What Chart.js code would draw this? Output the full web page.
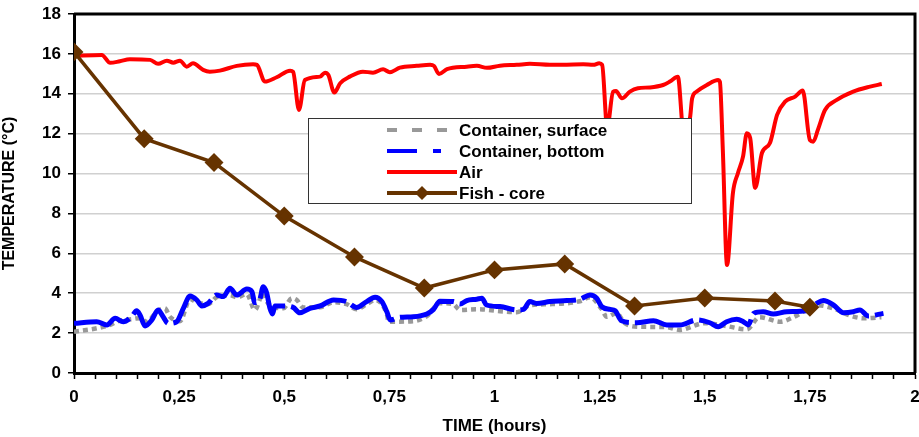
<!DOCTYPE html>
<html>
<head>
<meta charset="utf-8">
<script src="https://cdn.jsdelivr.net/npm/chart.js@4"></script>
<style>
  html, body { margin: 0; padding: 0; background: #fff; overflow: hidden; }
  #wrap { width: 919px; height: 437px; }
</style>
</head>
<body>
<div id="wrap"><canvas id="tempChart"></canvas></div>
<script>
// series data (time in hours, temperature in °C)
const surfaceTime = [0, 0.054, 0.086, 0.105, 0.137, 0.157, 0.173, 0.197, 0.216, 0.228, 0.252, 0.276, 0.292, 0.319, 0.339, 0.371, 0.387, 0.411, 0.43, 0.45, 0.458, 0.474, 0.498, 0.518, 0.53, 0.545, 0.585, 0.617, 0.648, 0.672, 0.696, 0.716, 0.744, 0.748, 0.807, 0.839, 0.87, 0.902, 0.918, 0.958, 1.013, 1.053, 1.084, 1.132, 1.203, 1.227, 1.255, 1.267, 1.29, 1.31, 1.346, 1.41, 1.44, 1.5, 1.55, 1.6, 1.63, 1.68, 1.71, 1.77, 1.81, 1.85, 1.88, 1.92];
const surfaceTemp = [2.07, 2.24, 2.41, 2.6, 2.7, 2.75, 2.57, 3.07, 3.24, 2.82, 2.6, 3.7, 3.55, 3.45, 3.8, 3.9, 3.8, 3.95, 3.16, 4.0, 3.6, 3.29, 3.25, 3.75, 3.66, 3.29, 3.3, 3.55, 3.45, 3.2, 3.45, 3.65, 2.95, 2.57, 2.6, 2.85, 3.5, 3.45, 3.16, 3.2, 3.1, 3.05, 3.4, 3.45, 3.6, 3.8, 3.2, 2.82, 3.0, 2.5, 2.32, 2.3, 2.16, 2.5, 2.36, 2.19, 2.8, 2.57, 2.79, 3.4, 3.2, 2.85, 2.74, 2.8];

const bottomTime = [0, 0.054, 0.078, 0.098, 0.117, 0.137, 0.149, 0.157, 0.169, 0.185, 0.2, 0.212, 0.224, 0.244, 0.26, 0.276, 0.292, 0.304, 0.319, 0.339, 0.355, 0.371, 0.387, 0.411, 0.423, 0.43, 0.442, 0.45, 0.458, 0.466, 0.472, 0.478, 0.498, 0.521, 0.537, 0.561, 0.585, 0.617, 0.648, 0.672, 0.696, 0.716, 0.732, 0.744, 0.752, 0.775, 0.807, 0.839, 0.855, 0.87, 0.902, 0.918, 0.934, 0.958, 0.97, 0.981, 1.013, 1.053, 1.069, 1.084, 1.1, 1.132, 1.172, 1.203, 1.227, 1.243, 1.255, 1.275, 1.287, 1.302, 1.338, 1.378, 1.41, 1.441, 1.481, 1.512, 1.532, 1.552, 1.576, 1.592, 1.604, 1.616, 1.639, 1.663, 1.695, 1.742, 1.766, 1.782, 1.806, 1.83, 1.853, 1.869, 1.889, 1.925];
const bottomTemp = [2.49, 2.57, 2.41, 2.74, 2.57, 2.82, 3.12, 2.91, 2.36, 2.66, 3.16, 2.82, 2.49, 2.57, 3.24, 3.86, 3.66, 3.36, 3.49, 3.91, 3.83, 4.25, 3.91, 4.21, 4.08, 3.53, 3.7, 4.33, 4.03, 3.24, 2.96, 3.36, 3.36, 3.29, 3.02, 3.24, 3.36, 3.66, 3.58, 3.29, 3.58, 3.8, 3.58, 3.07, 2.66, 2.79, 2.82, 2.96, 3.19, 3.6, 3.58, 3.46, 3.63, 3.7, 3.75, 3.41, 3.33, 3.16, 3.19, 3.58, 3.49, 3.58, 3.63, 3.7, 3.91, 3.75, 3.33, 3.19, 3.12, 2.62, 2.52, 2.62, 2.41, 2.41, 2.66, 2.52, 2.32, 2.57, 2.69, 2.57, 2.41, 2.99, 3.07, 2.96, 3.07, 3.12, 3.49, 3.63, 3.41, 3.02, 3.07, 3.16, 2.86, 2.99];

const airTime = [0, 0.066, 0.086, 0.109, 0.133, 0.181, 0.2, 0.221, 0.236, 0.252, 0.268, 0.283, 0.307, 0.323, 0.347, 0.387, 0.426, 0.435, 0.454, 0.482, 0.514, 0.521, 0.535, 0.549, 0.585, 0.597, 0.605, 0.619, 0.633, 0.656, 0.687, 0.711, 0.735, 0.751, 0.775, 0.815, 0.847, 0.856, 0.868, 0.887, 0.934, 0.958, 0.982, 1.013, 1.053, 1.084, 1.132, 1.172, 1.211, 1.235, 1.249, 1.256, 1.268, 1.282, 1.289, 1.303, 1.322, 1.341, 1.37, 1.401, 1.417, 1.436, 1.45, 1.465, 1.47, 1.481, 1.505, 1.532, 1.536, 1.543, 1.553, 1.567, 1.579, 1.591, 1.6, 1.608, 1.62, 1.636, 1.655, 1.672, 1.691, 1.715, 1.733, 1.75, 1.758, 1.769, 1.786, 1.814, 1.853, 1.893, 1.921];
const airTemp = [15.9, 15.95, 15.55, 15.63, 15.73, 15.7, 15.5, 15.66, 15.56, 15.66, 15.36, 15.53, 15.2, 15.11, 15.16, 15.4, 15.48, 15.45, 14.61, 14.83, 15.16, 15.1, 13.19, 14.69, 14.86, 15.06, 14.94, 14.06, 14.53, 14.86, 15.11, 15.06, 15.23, 15.08, 15.31, 15.4, 15.46, 15.4, 14.99, 15.23, 15.36, 15.4, 15.3, 15.41, 15.45, 15.5, 15.45, 15.46, 15.48, 15.45, 15.53, 15.45, 12.3, 14.1, 14.14, 13.77, 14.11, 14.28, 14.32, 14.44, 14.61, 14.86, 12.0, 12.8, 13.77, 14.11, 14.44, 14.69, 14.61, 11.18, 5.42, 9.03, 10.03, 10.85, 12.02, 11.78, 9.28, 11.03, 11.53, 12.94, 13.61, 13.86, 14.16, 11.68, 11.6, 12.19, 13.19, 13.69, 14.11, 14.36, 14.49];

const fishTime = [0, 0.167, 0.333, 0.5, 0.667, 0.833, 1, 1.167, 1.333, 1.5, 1.667, 1.75];
const fishTemp = [16.1, 11.75, 10.55, 7.87, 5.82, 4.26, 5.17, 5.47, 3.36, 3.76, 3.61, 3.3];

const seriesNames = ['Container, surface', 'Container, bottom', 'Air', 'Fish - core'];

const FONT = 'Liberation Sans, Arial, sans-serif';

// turn two arrays into {x, y} points
function toPoints(xs, ys) {
  return xs.map((x, i) => ({ x: x, y: ys[i] }));
}

// draws the black frame and the boxed legend on top of the lines
const frameAndLegend = {
  id: 'frameAndLegend',
  afterDraw(chart) {
    const ctx = chart.ctx;
    const a = chart.chartArea;
    ctx.save();

    // top and right border of the plot
    ctx.strokeStyle = '#000';
    ctx.lineWidth = 3;
    ctx.beginPath();
    ctx.moveTo(a.left, a.top);
    ctx.lineTo(a.right, a.top);
    ctx.lineTo(a.right, a.bottom);
    ctx.stroke();

    // legend box
    const bx = 308, by = 118, bw = 383, bh = 85;
    ctx.fillStyle = '#fff';
    ctx.fillRect(bx, by, bw, bh);
    ctx.strokeStyle = '#333';
    ctx.lineWidth = 1;
    ctx.strokeRect(bx + 0.5, by + 0.5, bw, bh);

    const x1 = 387, x2 = 457;
    const rows = [130, 151, 172, 193];
    const styles = [
      { color: '#999999', dash: [10, 15] },
      { color: '#0000ff', dash: [30, 16, 8, 16] },
      { color: '#ff0000', dash: [] },
      { color: '#663300', dash: [] }
    ];
    rows.forEach((y, i) => {
      ctx.strokeStyle = styles[i].color;
      ctx.lineWidth = 4;
      ctx.setLineDash(styles[i].dash);
      ctx.beginPath();
      ctx.moveTo(x1, y);
      ctx.lineTo(x2, y);
      ctx.stroke();
      ctx.setLineDash([]);

      ctx.fillStyle = '#000';
      ctx.font = 'bold 17px ' + FONT;
      ctx.textBaseline = 'middle';
      ctx.textAlign = 'left';
      ctx.fillText(seriesNames[i], 459, y + 1);
    });

    // diamond marker in the fish entry
    const cx = 422, cy = rows[3];
    ctx.fillStyle = '#663300';
    ctx.beginPath();
    ctx.moveTo(cx, cy - 7);
    ctx.lineTo(cx + 7, cy);
    ctx.lineTo(cx, cy + 7);
    ctx.lineTo(cx - 7, cy);
    ctx.closePath();
    ctx.fill();

    ctx.restore();
  }
};

const ctx = document.getElementById('tempChart').getContext('2d');
new Chart(ctx, {
  type: 'line',
  data: {
    datasets: [
      {
        label: seriesNames[3],
        data: toPoints(fishTime, fishTemp),
        borderColor: '#663300',
        backgroundColor: '#663300',
        borderWidth: 3.5,
        pointStyle: 'rectRot',
        pointRadius: 7,
        pointHoverRadius: 7,
        tension: 0,
        order: 1
      },
      {
        label: seriesNames[1],
        data: toPoints(bottomTime, bottomTemp),
        borderColor: '#0000ff',
        borderWidth: 5,
        borderDash: [60, 6],
        pointRadius: 0,
        cubicInterpolationMode: 'monotone',
        order: 2
      },
      {
        label: seriesNames[0],
        data: toPoints(surfaceTime, surfaceTemp),
        borderColor: '#999999',
        borderWidth: 4.5,
        borderDash: [5, 4],
        pointRadius: 0,
        cubicInterpolationMode: 'monotone',
        order: 3
      },
      {
        label: seriesNames[2],
        data: toPoints(airTime, airTemp),
        borderColor: '#ff0000',
        borderWidth: 4,
        pointRadius: 0,
        cubicInterpolationMode: 'monotone',
        order: 4
      }
    ]
  },
  options: {
    responsive: true,
    maintainAspectRatio: false,
    animation: false,
    layout: {
      autoPadding: false,
      padding: { top: 14, right: 4, left: 0, bottom: 0 }
    },
    plugins: {
      legend: { display: false },
      tooltip: { enabled: false }
    },
    scales: {
      x: {
        type: 'linear',
        min: 0,
        max: 2,
        afterFit: scale => {
          scale.height = 64;
          scale.paddingLeft = 0;
          scale.paddingRight = 0;
        },
        ticks: {
          stepSize: 0.05,
          autoSkip: false,
          maxRotation: 0,
          padding: 8,
          color: '#000',
          font: { family: FONT, size: 17, weight: 'bold' },
          callback: function(value) {
            const q = value * 4;
            if (Math.abs(q - Math.round(q)) > 1e-6) return '';
            return String(Math.round(q) / 4).replace('.', ',');
          }
        },
        grid: {
          drawOnChartArea: false,
          drawTicks: true,
          tickLength: 6,
          tickColor: '#000',
          tickWidth: 1.5
        },
        border: { color: '#000', width: 3 },
        title: {
          display: true,
          text: 'TIME (hours)',
          color: '#000',
          font: { family: FONT, size: 17, weight: 'bold' },
          padding: { top: 2, bottom: 0 }
        }
      },
      y: {
        min: 0,
        max: 18,
        afterFit: scale => {
          scale.width = 74;
          scale.paddingTop = 0;
          scale.paddingBottom = 0;
        },
        ticks: {
          stepSize: 2,
          padding: 7,
          color: '#000',
          font: { family: FONT, size: 17, weight: 'bold' }
        },
        grid: {
          color: '#d0d0d0',
          lineWidth: 1.5,
          tickLength: 6,
          tickColor: '#000',
          tickWidth: 1.5
        },
        border: { color: '#000', width: 3 },
        title: {
          display: true,
          text: 'TEMPERATURE (°C)',
          color: '#000',
          font: { family: FONT, size: 16, weight: 'bold' },
          padding: { top: 0, bottom: 4 }
        }
      }
    }
  },
  plugins: [frameAndLegend]
});
</script>
</body>
</html>
